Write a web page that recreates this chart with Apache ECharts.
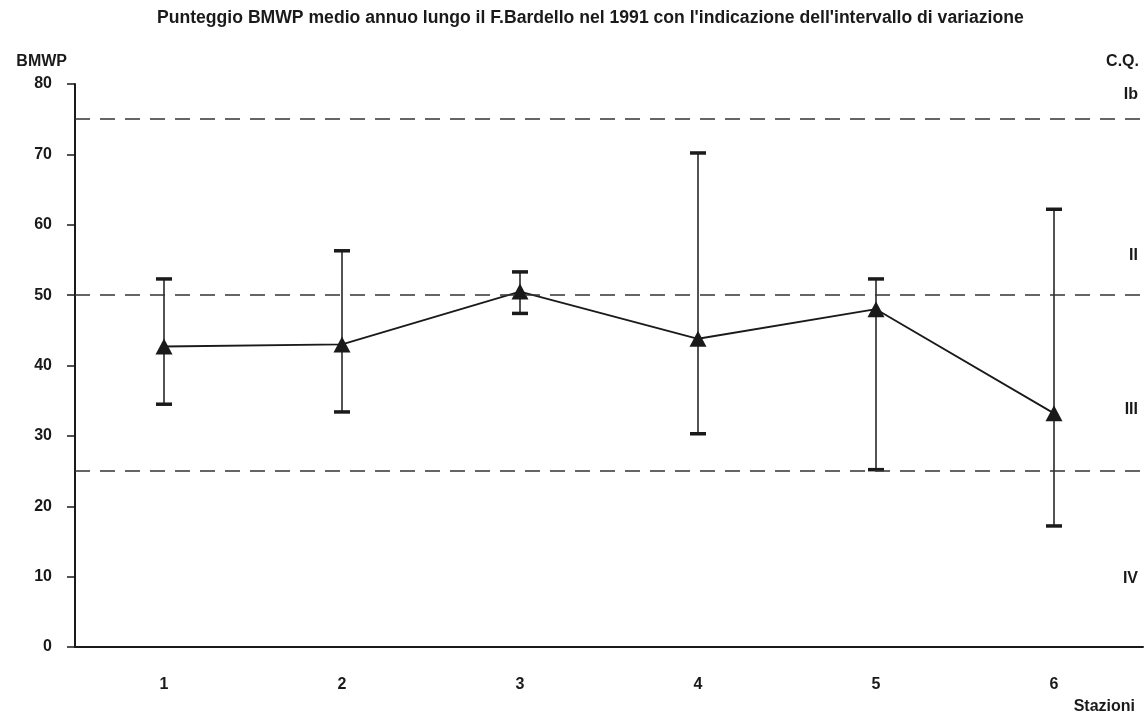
<!DOCTYPE html>
<html>
<head>
<meta charset="utf-8">
<script src="https://cdn.jsdelivr.net/npm/echarts@6/dist/echarts.min.js"></script>
<style>html,body{margin:0;padding:0;background:#fff}#c{width:1145px;height:718px}</style>
</head>
<body>
<div id="c"></div>
<script>
const titleText = "Punteggio BMWP medio annuo lungo il F.Bardello nel 1991 con l'indicazione dell'intervallo di variazione";
const stations = ['1', '2', '3', '4', '5', '6'];
const meanValues = [42.7, 43.0, 50.5, 43.8, 48.0, 33.2];
const lowValues = [34.5, 33.4, 47.4, 30.3, 25.2, 17.2];
const highValues = [52.3, 56.3, 53.3, 70.2, 52.3, 62.2];
const classLimits = [75, 50, 25];
const classLabels = ['Ib', 'II', 'III', 'IV'];
const yTicks = [0, 10, 20, 30, 40, 50, 60, 70, 80];

const font = "'Liberation Sans', Arial, sans-serif";
const ink = '#1a1a1a';
const fs = 16;
const gfont = "bold " + fs + "px 'Liberation Sans', Arial, sans-serif";

const chart = echarts.init(document.getElementById('c'), null, {renderer: 'canvas'});

const errData = stations.map((s, i) => [i, lowValues[i], highValues[i]]);

const classLabelY = [96, 257, 411, 580];

const option = {
  backgroundColor: '#fff',
  animation: false,
  title: {
    text: titleText,
    left: 152,
    top: 4,
    textStyle: {fontFamily: font, fontSize: 17.6, fontWeight: 'bold', color: ink}
  },
  grid: {left: 75, right: 2, top: 84, bottom: 71, containLabel: false},
  xAxis: {
    type: 'category',
    data: stations,
    boundaryGap: true,
    axisLine: {lineStyle: {color: ink, width: 2}},
    axisTick: {show: false},
    axisLabel: {margin: 30, fontFamily: font, fontSize: fs, fontWeight: 'bold', color: ink},
    splitLine: {show: false}
  },
  yAxis: {
    type: 'value',
    min: 0, max: 80, interval: 10,
    name: 'BMWP',
    nameLocation: 'end',
    nameGap: 14,
    nameTextStyle: {fontFamily: font, fontSize: fs, fontWeight: 'bold', color: ink, align: 'right', padding: [0, 8, 0, 0]},
    axisLine: {show: true, lineStyle: {color: ink, width: 2}},
    axisTick: {show: true, inside: false, length: 8, lineStyle: {color: ink, width: 1.5}},
    axisLabel: {margin: 23, fontFamily: font, fontSize: fs, fontWeight: 'bold', color: ink,
      formatter: v => yTicks.includes(v) ? String(v) : ''},
    splitLine: {show: false}
  },
  graphic: [
    {type: 'text', right: 6, top: 54, style: {text: 'C.Q.', font: gfont, fill: ink}},
    ...classLabels.map((t, i) => ({type: 'text', right: 7, top: classLabelY[i] - 9,
      style: {text: t, font: gfont, fill: ink}})),
    {type: 'text', right: 10, top: 699, style: {text: 'Stazioni', font: gfont, fill: ink}}
  ],
  series: [
    {
      type: 'custom',
      data: errData,
      encode: {x: 0, y: [1, 2]},
      z: 2,
      renderItem: function (params, api) {
        const xi = api.value(0);
        const lo = api.coord([xi, api.value(1)]);
        const hi = api.coord([xi, api.value(2)]);
        const half = 8;
        return {
          type: 'group',
          children: [
            {type: 'line', shape: {x1: lo[0], y1: lo[1], x2: hi[0], y2: hi[1]}, style: {stroke: ink, lineWidth: 1.5}},
            {type: 'line', shape: {x1: hi[0] - half, y1: hi[1], x2: hi[0] + half, y2: hi[1]}, style: {stroke: ink, lineWidth: 3.5}},
            {type: 'line', shape: {x1: lo[0] - half, y1: lo[1], x2: lo[0] + half, y2: lo[1]}, style: {stroke: ink, lineWidth: 3.5}}
          ]
        };
      }
    },
    {
      type: 'line',
      data: meanValues,
      z: 3,
      symbol: 'triangle',
      symbolSize: [17, 16],
      showAllSymbol: true,
      itemStyle: {color: ink},
      lineStyle: {color: ink, width: 1.8},
      markLine: {
        silent: true,
        symbol: 'none',
        label: {show: false},
        lineStyle: {color: '#333', width: 1.5, type: [15, 10]},
        data: classLimits.map(v => ({yAxis: v}))
      }
    }
  ]
};
chart.setOption(option);
</script>
</body>
</html>
